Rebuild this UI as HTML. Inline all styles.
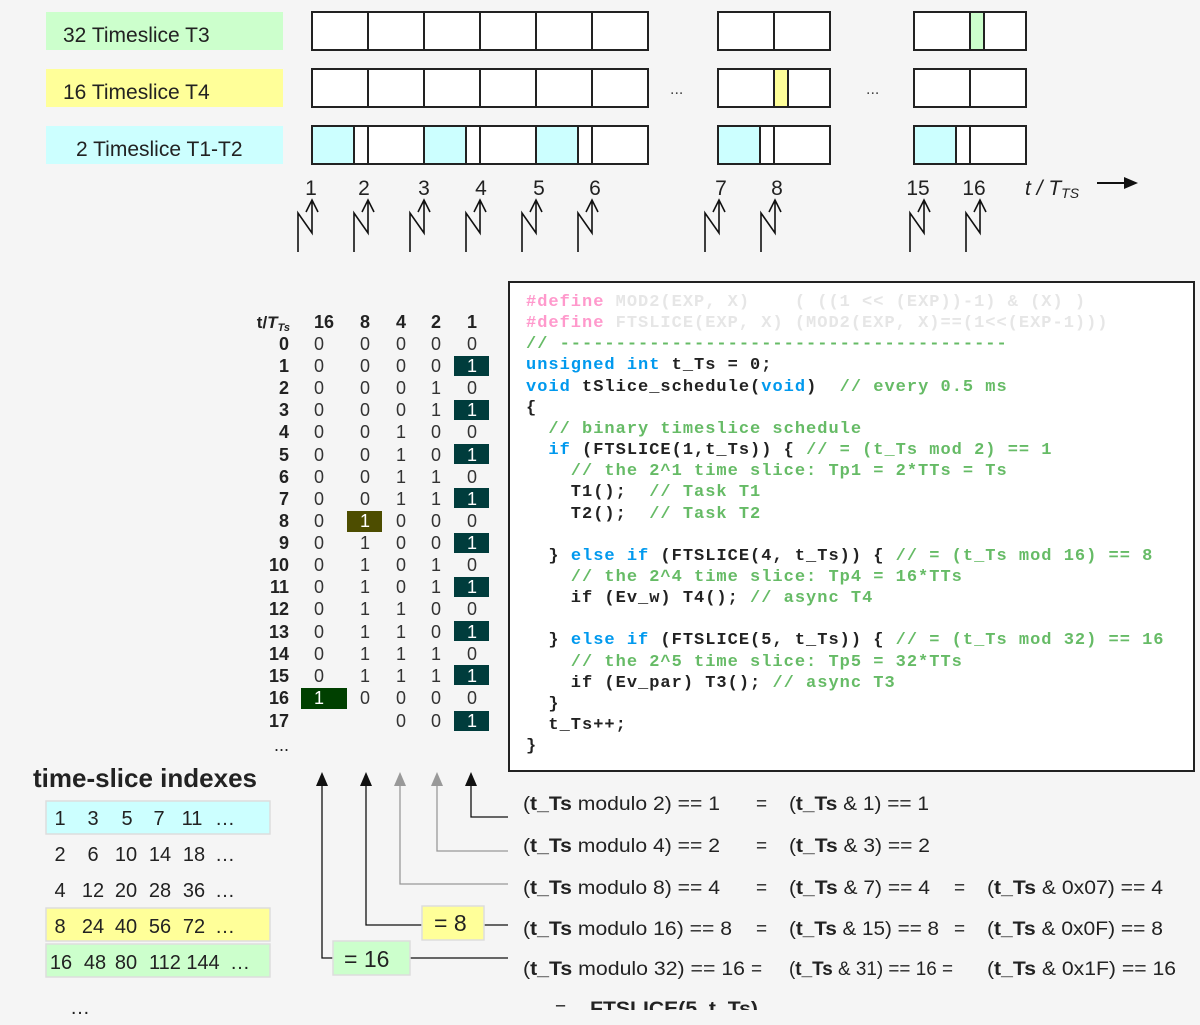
<!DOCTYPE html>
<html><head><meta charset="utf-8"><style>
html,body{margin:0;padding:0;background:#f5f5f5;}
svg{display:block;}
text{white-space:pre;}
.s{font-family:"Liberation Sans",sans-serif;}
.m{font-family:"Liberation Mono",monospace;font-weight:bold;font-size:17px;letter-spacing:1.0px;}
.k{fill:#0099ee}.c{fill:#66bb66}.d{fill:#ff99cc}.f{fill:#e6e6e6}
</style></head><body>
<svg width="1200" height="1025" viewBox="0 0 1200 1025" xmlns="http://www.w3.org/2000/svg">
<rect width="1200" height="1025" fill="#f5f5f5"/>
<g class="s" font-size="21" fill="#222">
<rect x="46" y="12" width="237" height="38" fill="#ccffcc"/>
<rect x="46" y="69" width="237" height="38" fill="#ffff99"/>
<rect x="46" y="126" width="237" height="38" fill="#ccffff"/>
<text x="63" y="42">32 Timeslice T3</text>
<text x="63" y="99">16 Timeslice T4</text>
<text x="76" y="156">2 Timeslice T1-T2</text>
</g>
<g stroke="#222" stroke-width="2">
<rect x="312" y="12" width="336" height="38" fill="#fff"/>
<rect x="312" y="69" width="336" height="38" fill="#fff"/>
<rect x="312" y="126" width="336" height="38" fill="#fff"/>
<rect x="718" y="12" width="112" height="38" fill="#fff"/>
<rect x="718" y="69" width="112" height="38" fill="#fff"/>
<rect x="718" y="126" width="112" height="38" fill="#fff"/>
<rect x="914" y="12" width="112" height="38" fill="#fff"/>
<rect x="914" y="69" width="112" height="38" fill="#fff"/>
<rect x="914" y="126" width="112" height="38" fill="#fff"/>
<g fill="#ccffff">
<rect x="312" y="126" width="42" height="38"/><rect x="424" y="126" width="42" height="38"/><rect x="536" y="126" width="42" height="38"/><rect x="718" y="126" width="42" height="38"/><rect x="914" y="126" width="42" height="38"/>
</g>
<rect x="970" y="12" width="14" height="38" fill="#ccffcc"/>
<rect x="774" y="69" width="14" height="38" fill="#ffff99"/>
<path d="M368 12V50M424 12V50M480 12V50M536 12V50M592 12V50M368 69V107M424 69V107M480 69V107M536 69V107M592 69V107M368 126V164M424 126V164M480 126V164M536 126V164M592 126V164M774 12V50M774 126V164M970 69V107M970 126V164" fill="none"/>
</g>
<g class="s" font-size="16" fill="#444"><text x="670" y="94">...</text><text x="866" y="94">...</text></g>
<g class="s" font-size="21" fill="#222" text-anchor="middle">
<text x="311" y="195">1</text><text x="364" y="195">2</text><text x="424" y="195">3</text><text x="481" y="195">4</text><text x="539" y="195">5</text><text x="595" y="195">6</text><text x="721" y="195">7</text><text x="777" y="195">8</text><text x="918" y="195">15</text><text x="974" y="195">16</text>
</g>
<text x="1025" y="195" class="s" font-size="21" font-style="italic" fill="#222">t / T<tspan font-size="14" dy="3">TS</tspan></text>
<path d="M1097 183H1126" stroke="#111" stroke-width="2"/><path d="M1124 177L1138 183L1124 189Z" fill="#111"/>
<g stroke="#111" stroke-width="1.6" fill="none">
<path d="M298 252V213L312 233V200M306 212L312 200L318 212"/>
<path d="M354 252V213L368 233V200M362 212L368 200L374 212"/>
<path d="M410 252V213L424 233V200M418 212L424 200L430 212"/>
<path d="M466 252V213L480 233V200M474 212L480 200L486 212"/>
<path d="M522 252V213L536 233V200M530 212L536 200L542 212"/>
<path d="M578 252V213L592 233V200M586 212L592 200L598 212"/>
<path d="M705 252V213L719 233V200M713 212L719 200L725 212"/>
<path d="M761 252V213L775 233V200M769 212L775 200L781 212"/>
<path d="M910 252V213L924 233V200M918 212L924 200L930 212"/>
<path d="M966 252V213L980 233V200M974 212L980 200L986 212"/>
</g>
<g class="s" font-size="18" fill="#333">
<g font-weight="bold" fill="#222">
<text x="290" y="328" text-anchor="end" font-size="17">t/<tspan font-style="italic">T</tspan><tspan font-size="11" dy="3" font-style="italic">Ts</tspan></text>
<text x="324" y="328" text-anchor="middle">16</text><text x="365" y="328" text-anchor="middle">8</text><text x="401" y="328" text-anchor="middle">4</text><text x="436" y="328" text-anchor="middle">2</text><text x="472" y="328" text-anchor="middle">1</text>
</g>
<g fill="#003c3c">
<rect x="454" y="356" width="35" height="20"/><rect x="454" y="400" width="35" height="20"/><rect x="454" y="444" width="35" height="20"/><rect x="454" y="488" width="35" height="20"/><rect x="454" y="533" width="35" height="20"/><rect x="454" y="577" width="35" height="20"/><rect x="454" y="621" width="35" height="20"/><rect x="454" y="665" width="35" height="20"/><rect x="454" y="711" width="35" height="20"/>
</g>
<rect x="347" y="511" width="35" height="21" fill="#4d4d00"/>
<rect x="301" y="688" width="46" height="21" fill="#004000"/>
<g font-weight="bold" fill="#222" text-anchor="end">
<text x="289" y="350">0</text><text x="289" y="372">1</text><text x="289" y="394">2</text><text x="289" y="416">3</text><text x="289" y="438">4</text><text x="289" y="461">5</text><text x="289" y="483">6</text><text x="289" y="505">7</text><text x="289" y="527">8</text><text x="289" y="549">9</text><text x="289" y="571">10</text><text x="289" y="593">11</text><text x="289" y="615">12</text><text x="289" y="638">13</text><text x="289" y="660">14</text><text x="289" y="682">15</text><text x="289" y="704">16</text><text x="289" y="727">17</text><text x="289" y="751" font-weight="normal">...</text>
</g>
<g text-anchor="middle">
<text x="319" y="350">0</text><text x="365" y="350">0</text><text x="401" y="350">0</text><text x="436" y="350">0</text><text x="472" y="350">0</text>
<text x="319" y="372">0</text><text x="365" y="372">0</text><text x="401" y="372">0</text><text x="436" y="372">0</text><text x="472" y="372" fill="#fff">1</text>
<text x="319" y="394">0</text><text x="365" y="394">0</text><text x="401" y="394">0</text><text x="436" y="394">1</text><text x="472" y="394">0</text>
<text x="319" y="416">0</text><text x="365" y="416">0</text><text x="401" y="416">0</text><text x="436" y="416">1</text><text x="472" y="416" fill="#fff">1</text>
<text x="319" y="438">0</text><text x="365" y="438">0</text><text x="401" y="438">1</text><text x="436" y="438">0</text><text x="472" y="438">0</text>
<text x="319" y="461">0</text><text x="365" y="461">0</text><text x="401" y="461">1</text><text x="436" y="461">0</text><text x="472" y="461" fill="#fff">1</text>
<text x="319" y="483">0</text><text x="365" y="483">0</text><text x="401" y="483">1</text><text x="436" y="483">1</text><text x="472" y="483">0</text>
<text x="319" y="505">0</text><text x="365" y="505">0</text><text x="401" y="505">1</text><text x="436" y="505">1</text><text x="472" y="505" fill="#fff">1</text>
<text x="319" y="527">0</text><text x="365" y="527" fill="#fff">1</text><text x="401" y="527">0</text><text x="436" y="527">0</text><text x="472" y="527">0</text>
<text x="319" y="549">0</text><text x="365" y="549">1</text><text x="401" y="549">0</text><text x="436" y="549">0</text><text x="472" y="549" fill="#fff">1</text>
<text x="319" y="571">0</text><text x="365" y="571">1</text><text x="401" y="571">0</text><text x="436" y="571">1</text><text x="472" y="571">0</text>
<text x="319" y="593">0</text><text x="365" y="593">1</text><text x="401" y="593">0</text><text x="436" y="593">1</text><text x="472" y="593" fill="#fff">1</text>
<text x="319" y="615">0</text><text x="365" y="615">1</text><text x="401" y="615">1</text><text x="436" y="615">0</text><text x="472" y="615">0</text>
<text x="319" y="638">0</text><text x="365" y="638">1</text><text x="401" y="638">1</text><text x="436" y="638">0</text><text x="472" y="638" fill="#fff">1</text>
<text x="319" y="660">0</text><text x="365" y="660">1</text><text x="401" y="660">1</text><text x="436" y="660">1</text><text x="472" y="660">0</text>
<text x="319" y="682">0</text><text x="365" y="682">1</text><text x="401" y="682">1</text><text x="436" y="682">1</text><text x="472" y="682" fill="#fff">1</text>
<text x="319" y="704" fill="#fff">1</text><text x="365" y="704">0</text><text x="401" y="704">0</text><text x="436" y="704">0</text><text x="472" y="704">0</text>
<text x="401" y="727">0</text><text x="436" y="727">0</text><text x="472" y="727" fill="#fff">1</text>
</g>
</g>
<rect x="509" y="282" width="685" height="489" fill="#fff" stroke="#222" stroke-width="2"/>
<g class="m" fill="#222">
<text x="526" y="306"><tspan class="d">#define</tspan><tspan class="f"> MOD2(EXP, X)    ( ((1 &lt;&lt; (EXP))-1) &amp; (X) )</tspan></text>
<text x="526" y="327"><tspan class="d">#define</tspan><tspan class="f"> FTSLICE(EXP, X) (MOD2(EXP, X)==(1&lt;&lt;(EXP-1)))</tspan></text>
<text x="526" y="348" class="c">// ----------------------------------------</text>
<text x="526" y="369"><tspan class="k">unsigned int</tspan> t_Ts = 0;</text>
<text x="526" y="391"><tspan class="k">void</tspan> tSlice_schedule(<tspan class="k">void</tspan>)  <tspan class="c">// every 0.5 ms</tspan></text>
<text x="526" y="412">{</text>
<text x="526" y="433" class="c">  // binary timeslice schedule</text>
<text x="526" y="454">  <tspan class="k">if</tspan> (FTSLICE(1,t_Ts)) { <tspan class="c">// = (t_Ts mod 2) == 1</tspan></text>
<text x="526" y="475" class="c">    // the 2^1 time slice: Tp1 = 2*TTs = Ts</text>
<text x="526" y="496">    T1();  <tspan class="c">// Task T1</tspan></text>
<text x="526" y="518">    T2();  <tspan class="c">// Task T2</tspan></text>
<text x="526" y="560">  } <tspan class="k">else if</tspan> (FTSLICE(4, t_Ts)) { <tspan class="c">// = (t_Ts mod 16) == 8</tspan></text>
<text x="526" y="581" class="c">    // the 2^4 time slice: Tp4 = 16*TTs</text>
<text x="526" y="602">    if (Ev_w) T4(); <tspan class="c">// async T4</tspan></text>
<text x="526" y="644">  } <tspan class="k">else if</tspan> (FTSLICE(5, t_Ts)) { <tspan class="c">// = (t_Ts mod 32) == 16</tspan></text>
<text x="526" y="666" class="c">    // the 2^5 time slice: Tp5 = 32*TTs</text>
<text x="526" y="687">    if (Ev_par) T3(); <tspan class="c">// async T3</tspan></text>
<text x="526" y="708">  }</text>
<text x="526" y="729">  t_Ts++;</text>
<text x="526" y="750">}</text>
</g>
<text x="33" y="787" class="s" font-size="26" font-weight="bold" fill="#222">time-slice indexes</text>
<g stroke="#ddd" stroke-width="1.5">
<rect x="46" y="801" width="224" height="33" fill="#ccffff"/>
<rect x="46" y="908" width="224" height="33" fill="#ffff99"/>
<rect x="46" y="944" width="224" height="33" fill="#ccffcc"/>
</g>
<g class="s" font-size="20" fill="#222" text-anchor="middle">
<text x="60" y="825">1</text><text x="93" y="825">3</text><text x="127" y="825">5</text><text x="159" y="825">7</text><text x="192" y="825">11</text><text x="225" y="825">…</text>
<text x="60" y="861">2</text><text x="93" y="861">6</text><text x="126" y="861">10</text><text x="160" y="861">14</text><text x="194" y="861">18</text><text x="225" y="861">…</text>
<text x="60" y="897">4</text><text x="93" y="897">12</text><text x="126" y="897">20</text><text x="160" y="897">28</text><text x="194" y="897">36</text><text x="225" y="897">…</text>
<text x="60" y="933">8</text><text x="93" y="933">24</text><text x="126" y="933">40</text><text x="160" y="933">56</text><text x="194" y="933">72</text><text x="225" y="933">…</text>
<text x="61" y="969">16</text><text x="95" y="969">48</text><text x="126" y="969">80</text><text x="165" y="969">112</text><text x="203" y="969">144</text><text x="240" y="969">…</text>
<text x="80" y="1014">…</text>
</g>
<g fill="none" stroke-width="1.3">
<path d="M471 780V817H508" stroke="#111"/>
<path d="M437 780V851H508" stroke="#999"/>
<path d="M400 780V884H508" stroke="#999"/>
<path d="M366 780V925H422M484 925H508" stroke="#111"/>
<path d="M322 780V958H333M410 958H508" stroke="#111"/>
</g>
<path d="M465 786L471 772L477 786Z" fill="#111"/>
<path d="M431 786L437 772L443 786Z" fill="#999"/>
<path d="M394 786L400 772L406 786Z" fill="#999"/>
<path d="M360 786L366 772L372 786Z" fill="#111"/>
<path d="M316 786L322 772L328 786Z" fill="#111"/>
<rect x="422" y="906" width="62" height="34" fill="#ffff99" stroke="#ddd" stroke-width="1.5"/>
<rect x="333" y="941" width="77" height="34" fill="#ccffcc" stroke="#ddd" stroke-width="1.5"/>
<g class="s" font-size="23" fill="#222"><text x="434" y="931">= 8</text><text x="344" y="967">= 16</text></g>
<g class="s" font-size="19" fill="#222">
<text x="523" y="810" textLength="197" lengthAdjust="spacingAndGlyphs">(<tspan font-weight="bold">t_Ts</tspan> modulo 2) == 1</text>
<text x="523" y="852" textLength="197" lengthAdjust="spacingAndGlyphs">(<tspan font-weight="bold">t_Ts</tspan> modulo 4) == 2</text>
<text x="523" y="894" textLength="197" lengthAdjust="spacingAndGlyphs">(<tspan font-weight="bold">t_Ts</tspan> modulo 8) == 4</text>
<text x="523" y="935" textLength="209" lengthAdjust="spacingAndGlyphs">(<tspan font-weight="bold">t_Ts</tspan> modulo 16) == 8</text>
<text x="523" y="975" textLength="222" lengthAdjust="spacingAndGlyphs">(<tspan font-weight="bold">t_Ts</tspan> modulo 32) == 16</text>
<text x="756" y="810">=</text><text x="756" y="852">=</text><text x="756" y="894">=</text><text x="756" y="935">=</text><text x="751" y="975">=</text>
<text x="789" y="810" textLength="140" lengthAdjust="spacingAndGlyphs">(<tspan font-weight="bold">t_Ts</tspan> &amp; 1) == 1</text>
<text x="789" y="852" textLength="141" lengthAdjust="spacingAndGlyphs">(<tspan font-weight="bold">t_Ts</tspan> &amp; 3) == 2</text>
<text x="789" y="894" textLength="141" lengthAdjust="spacingAndGlyphs">(<tspan font-weight="bold">t_Ts</tspan> &amp; 7) == 4</text>
<text x="789" y="935" textLength="150" lengthAdjust="spacingAndGlyphs">(<tspan font-weight="bold">t_Ts</tspan> &amp; 15) == 8</text>
<text x="789" y="975" textLength="164" lengthAdjust="spacingAndGlyphs">(<tspan font-weight="bold">t_Ts</tspan> &amp; 31) == 16 =</text>
<text x="954" y="894">=</text><text x="954" y="935">=</text>
<text x="987" y="894" textLength="176" lengthAdjust="spacingAndGlyphs">(<tspan font-weight="bold">t_Ts</tspan> &amp; 0x07) == 4</text>
<text x="987" y="935" textLength="176" lengthAdjust="spacingAndGlyphs">(<tspan font-weight="bold">t_Ts</tspan> &amp; 0x0F) == 8</text>
<text x="987" y="975" textLength="189" lengthAdjust="spacingAndGlyphs">(<tspan font-weight="bold">t_Ts</tspan> &amp; 0x1F) == 16</text>
<text x="555" y="1015">=</text>
<text x="590" y="1015" font-weight="bold" textLength="168" lengthAdjust="spacingAndGlyphs">FTSLICE(5, t_Ts)</text>
</g>
<rect x="500" y="1010" width="700" height="15" fill="#f5f5f5"/>
</svg>
</body></html>
